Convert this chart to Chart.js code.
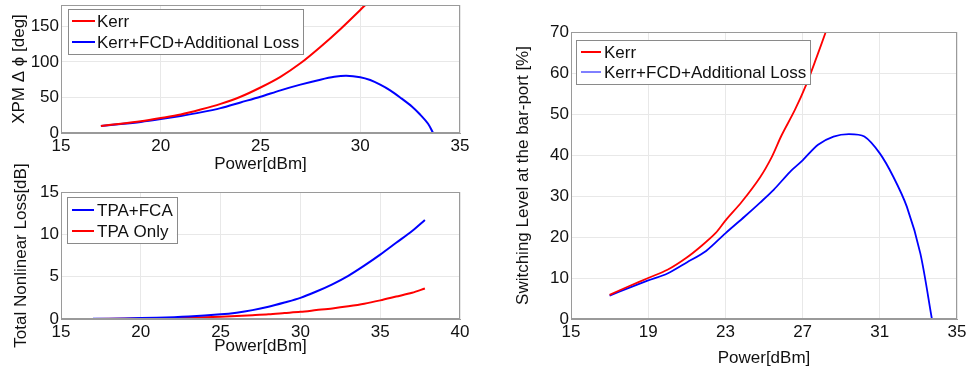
<!DOCTYPE html>
<html lang="en">
<head>
<meta charset="UTF-8">
<title>XPM, Nonlinear Loss and Switching Level vs Power</title>
<script src="https://cdn.jsdelivr.net/npm/chart.js"></script>
<style>
    body { margin: 0; background: #fff; }
    #wrap { position: relative; width: 968px; height: 371px; overflow: hidden; }
    canvas { position: absolute; }
</style>
</head>
<body>
<div id="wrap">
    <canvas id="xpmChart" style="left:0px;top:0px" width="480" height="175"></canvas>
    <canvas id="lossChart" style="left:0px;top:150px" width="480" height="221"></canvas>
    <canvas id="switchChart" style="left:490px;top:0px" width="478" height="371"></canvas>
</div>
<script>
// XPM phase shift (top left)
const xpmKerrP   = [17, 18, 19, 20, 21, 22, 23, 24, 25, 26, 27, 28, 29, 30, 30.25];
const xpmKerrDeg = [10, 13, 16.5, 21, 26, 33, 41, 51, 64, 79, 98, 121, 146, 173, 180];
const xpmFcdP    = [17, 18, 19, 20, 21, 22, 23, 24, 25, 26, 27, 28, 28.7, 29.3, 30, 30.5, 31, 31.5, 32, 32.6, 33, 33.4, 33.65];
const xpmFcdDeg  = [10, 12.5, 15.5, 19.5, 24, 29, 35, 43, 51, 60, 68, 75, 79, 80.5, 78.5, 74.5, 68, 60, 50, 37, 26, 13, 0];

// total nonlinear loss (bottom left)
const lossFcaP  = [17, 19, 21, 23, 25, 26, 27, 28, 29, 30, 31, 32, 33, 34, 35, 36, 37, 37.8];
const lossFcaDb = [0.02, 0.07, 0.15, 0.3, 0.55, 0.75, 1.05, 1.45, 1.95, 2.5, 3.25, 4.1, 5.1, 6.3, 7.6, 9.0, 10.4, 11.7];
const lossTpaP  = [17, 20, 23, 25, 27, 28, 29, 30, 31, 32, 33, 34, 35, 36, 37, 37.8];
const lossTpaDb = [0.01, 0.05, 0.15, 0.27, 0.45, 0.55, 0.7, 0.85, 1.05, 1.25, 1.5, 1.8, 2.2, 2.65, 3.1, 3.6];

// switching level at the bar-port (right)
const swKerrP   = [17, 18, 19, 20, 21, 21.8, 22.5, 23, 23.85, 24.8, 25.4, 25.9, 26.6, 27.2, 27.7, 28.2];
const swKerrPct = [5.9, 8, 10, 12, 15, 18, 21, 24, 28.6, 34.6, 39.5, 44.7, 51, 57.3, 63.5, 70];
const swFcdP    = [17, 18, 19, 20, 21, 22, 23, 24, 24.8, 25.5, 26.35, 27, 27.8, 28.6, 29.4, 30.2, 31, 31.7, 32.4, 33.1, 33.7];
const swFcdPct  = [5.7, 7.6, 9.4, 11.1, 13.8, 16.6, 20.9, 25, 28.4, 31.5, 35.9, 38.7, 42.5, 44.5, 45.1, 44.5, 40.4, 34.7, 27.4, 16, 0];

// axis ranges: [min, max, tick step]
const xpmTicksX = [15, 35, 5], xpmTicksY = [0, 180, 50];
const lossTicksX = [15, 40, 5], lossTicksY = [0, 15, 5];
const swTicksX = [15, 35, 4], swTicksY = [0, 70, 10];

const FAMILY = '"Liberation Sans", Arial, Helvetica, sans-serif';
const RED = '#ff0000', BLUE = '#0000ff';

function pts(xs, ys) {
    return xs.map((x, i) => ({ x: x, y: ys[i] }));
}

function series(label, xs, ys, color, width) {
    return {
        label: label,
        data: pts(xs, ys),
        borderColor: color,
        backgroundColor: color,
        borderWidth: width,
        showLine: true,
        pointRadius: 0,
        tension: 0.3
    };
}

function axis(range, title, titlePad, fitSize, horizontal) {
    return {
        type: 'linear',
        min: range[0],
        max: range[1],
        ticks: {
            stepSize: range[2],
            color: '#111',
            font: { family: FAMILY, size: 17 },
            padding: horizontal ? 3 : 2,
            maxRotation: 0,
            autoSkip: false
        },
        grid: { color: '#e8e8e8', drawTicks: false },
        border: { color: '#9a9a9a' },
        title: {
            display: true,
            text: title,
            color: '#111',
            font: { family: FAMILY, size: 17 },
            padding: titlePad
        },
        // only label multiples of the step (e.g. no "180" label on the XPM axis)
        afterBuildTicks: function (s) {
            s.ticks = s.ticks.filter(t => Math.abs((t.value - range[0]) % range[2]) < 1e-9);
        },
        afterFit: function (s) {
            if (horizontal) {
                s.height = fitSize;
                s.paddingLeft = 0;
                s.paddingRight = 0;
            } else {
                s.width = fitSize;
                s.paddingTop = 0;
                s.paddingBottom = 0;
            }
        }
    };
}

// axes box (MATLAB style) and legend drawn inside the plot area
const boxLegend = {
    id: 'boxLegend',
    afterDatasetsDraw(chart, args, o) {
        const ctx = chart.ctx, a = chart.chartArea;
        ctx.save();
        ctx.strokeStyle = '#9a9a9a';
        ctx.lineWidth = 1;
        ctx.strokeRect(Math.round(a.left) + 0.5, Math.round(a.top) + 0.5,
                       Math.round(a.width) - 1, Math.round(a.height) - 1);

        ctx.font = '17px ' + FAMILY;
        const sets = chart.data.datasets;
        let tw = 0;
        sets.forEach(d => { tw = Math.max(tw, ctx.measureText(d.label).width); });
        const bx = a.left + o.dx, by = a.top + o.dy;
        const bw = o.textX + tw + 4;
        ctx.fillStyle = '#fff';
        ctx.fillRect(bx, by, bw, o.h);
        ctx.strokeStyle = '#8a8a8a';
        ctx.strokeRect(Math.round(bx) + 0.5, Math.round(by) + 0.5, Math.round(bw), o.h);

        sets.forEach((d, i) => {
            const y = by + o.row + i * o.gap;
            ctx.strokeStyle = d.borderColor;
            ctx.lineWidth = o.lineWidths[i];
            ctx.beginPath();
            ctx.moveTo(bx + o.lineFrom, y);
            ctx.lineTo(bx + o.lineTo, y);
            ctx.stroke();
            ctx.fillStyle = '#111';
            ctx.textBaseline = 'middle';
            ctx.textAlign = 'left';
            ctx.fillText(d.label, bx + o.textX, y + 1);
        });
        ctx.restore();
    }
};

function makeChart(id, datasets, xAxis, yAxis, pad, legendOpts) {
    return new Chart(document.getElementById(id), {
        type: 'scatter',
        data: { datasets: datasets },
        options: {
            responsive: false,
            animation: false,
            layout: { padding: pad },
            scales: { x: xAxis, y: yAxis },
            plugins: {
                legend: { display: false },
                tooltip: { enabled: false },
                boxLegend: legendOpts
            }
        },
        plugins: [boxLegend]
    });
}

// XPM chart
makeChart('xpmChart',
    [
        series('Kerr', xpmKerrP, xpmKerrDeg, RED, 2),
        series('Kerr+FCD+Additional Loss', xpmFcdP, xpmFcdDeg, BLUE, 2)
    ],
    axis(xpmTicksX, 'Power[dBm]', { top: 0, bottom: 0 }, 42, true),
    axis(xpmTicksY, 'XPM \u0394 \u03d5 [deg]', { top: 9, bottom: 0 }, 61, false),
    { top: 5, right: 20, left: 0, bottom: 0 },
    { dx: 7, dy: 4, h: 45, row: 12, gap: 21, lineFrom: 4, lineTo: 27, textX: 29, lineWidths: [2, 2] }
);

// Nonlinear loss chart
makeChart('lossChart',
    [
        series('TPA+FCA', lossFcaP, lossFcaDb, BLUE, 2),
        series('TPA Only', lossTpaP, lossTpaDb, RED, 2)
    ],
    axis(lossTicksX, 'Power[dBm]', { top: 0, bottom: 14 }, 52, true),
    axis(lossTicksY, 'Total Nonlinear Loss[dB]', { top: 11, bottom: 0 }, 61, false),
    { top: 42, right: 20, left: 0, bottom: 0 },
    { dx: 6, dy: 5, h: 46, row: 13, gap: 21, lineFrom: 5, lineTo: 27, textX: 30, lineWidths: [2, 2] }
);

// Switching level chart
makeChart('switchChart',
    [
        series('Kerr', swKerrP, swKerrPct, RED, 1.8),
        series('Kerr+FCD+Additional Loss', swFcdP, swFcdPct, BLUE, 1.8)
    ],
    axis(swTicksX, 'Power[dBm]', { top: 0, bottom: 2 }, 52, true),
    axis(swTicksY, 'Switching Level at the bar-port [%]', { top: 23, bottom: 0 }, 81, false),
    { top: 32, right: 11, left: 0, bottom: 0 },
    { dx: 5, dy: 8, h: 44, row: 12, gap: 20, lineFrom: 5, lineTo: 25, textX: 28, lineWidths: [2, 1] }
);
</script>
</body>
</html>
